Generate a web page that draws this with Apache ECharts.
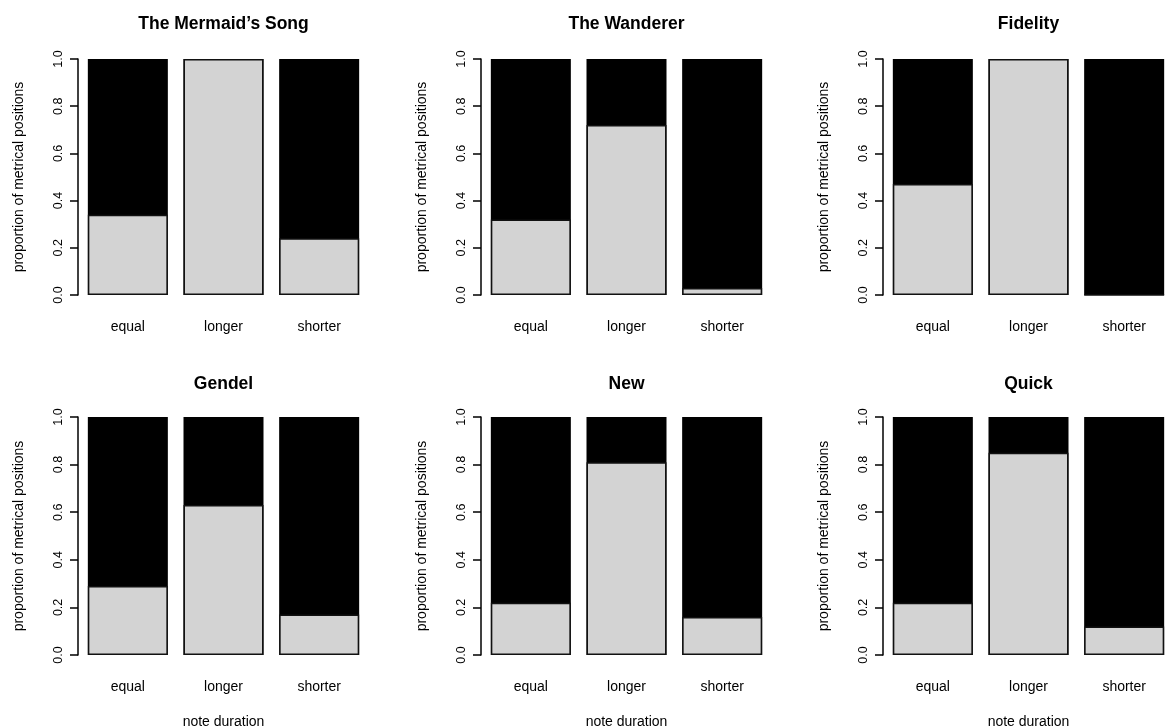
<!DOCTYPE html>
<html>
<head>
<meta charset="utf-8">
<script src="https://cdn.jsdelivr.net/npm/echarts@6/dist/echarts.min.js"></script>
<style>
  html, body { margin: 0; padding: 0; background: #fff; }
  #chart { width: 1165px; height: 727px; }
</style>
</head>
<body>
<div id="chart"></div>
<script>
// note duration categories
var categories = ['equal', 'longer', 'shorter'];
var titles = ['The Mermaid’s Song', 'The Wanderer', 'Fidelity', 'Gendel', 'New', 'Quick'];

// proportion of metrical positions (light grey part of each bar)
var mermaidSong = [0.34, 1.00, 0.24];
var wanderer    = [0.32, 0.72, 0.03];
var fidelity    = [0.47, 1.00, 0.00];
var gendel      = [0.29, 0.63, 0.17];
var newSong     = [0.22, 0.81, 0.16];
var quick       = [0.22, 0.85, 0.12];
// whole bar (black background)
var total = [1, 1, 1];

var panels = [mermaidSong, wanderer, fidelity, gendel, newSong, quick];

var font = "'Liberation Sans', Arial, sans-serif";
var lefts = [80, 483, 885];
var rows = [{top: 59, height: 236, titleTop: 15}, {top: 417, height: 238, titleTop: 375}];
var plotW = 287;

var option = {
    animation: false,
    backgroundColor: '#fff',
    textStyle: {fontFamily: font, color: '#000'},
    title: [],
    grid: [],
    xAxis: [],
    yAxis: [],
    series: []
};

panels.forEach(function(vals, i) {
    var r = rows[Math.floor(i / 3)];
    var left = lefts[i % 3];
    option.grid.push({left: left, top: r.top, width: plotW, height: r.height, outerBoundsMode: 'none'});
    option.title.push({
        text: titles[i],
        left: left + plotW / 2,
        top: r.titleTop,
        textAlign: 'center',
        padding: 0,
        textStyle: {fontFamily: font, fontSize: 17.5, fontWeight: 'bold', color: '#000'}
    });
    option.xAxis.push({
        type: 'category',
        gridIndex: i,
        data: categories,
        axisLine: {show: false},
        axisTick: {show: false},
        axisLabel: {margin: 25, fontSize: 14, color: '#000', fontFamily: font},
        name: i >= 3 ? 'note duration' : '',
        nameLocation: 'middle',
        nameGap: 60,
        nameTextStyle: {fontSize: 14, color: '#000', fontFamily: font}
    });
    option.yAxis.push({
        type: 'value',
        gridIndex: i,
        min: 0, max: 1, interval: 0.2,
        offset: 2,
        splitLine: {show: false},
        axisLine: {show: true, lineStyle: {color: '#000', width: 1.5}},
        axisTick: {show: true, length: 8, lineStyle: {color: '#000', width: 1.5}},
        axisLabel: {
            rotate: 90, margin: 13, fontSize: 12.5, color: '#000', fontFamily: font,
            formatter: function(v) { return v.toFixed(1); }
        },
        name: 'proportion of metrical positions',
        nameLocation: 'middle',
        nameRotate: 90,
        nameGap: 52,
        nameTextStyle: {fontSize: 14, color: '#000', fontFamily: font}
    });
    option.series.push({
        type: 'bar',
        xAxisIndex: i, yAxisIndex: i,
        data: total,
        barWidth: 80,
        itemStyle: {color: '#000', borderColor: '#000', borderWidth: 1.5}
    });
    option.series.push({
        type: 'bar',
        xAxisIndex: i, yAxisIndex: i,
        data: vals,
        barWidth: 80,
        barGap: '-100%',
        itemStyle: {color: '#d3d3d3', borderColor: '#111', borderWidth: 1.5}
    });
});

var chart = echarts.init(document.getElementById('chart'));
chart.setOption(option);
</script>
</body>
</html>
